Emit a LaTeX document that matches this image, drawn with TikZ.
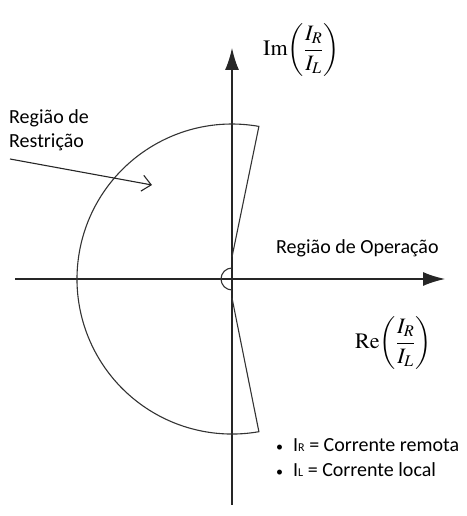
\documentclass[tikz,border=0pt]{standalone}
\usepackage{amsmath}
\usepackage{mathptmx}
\usepackage[no-math]{fontspec}
\setmainfont{Carlito}
\usetikzlibrary{arrows.meta}

\begin{document}
\begin{tikzpicture}[x=1pt,y=1pt,
  axis/.style={line width=1.4pt,black!85,-{Latex[length=22pt,width=14pt]}},
  boundary/.style={line width=1.1pt,black!80},
  axislabel/.style={anchor=west,inner sep=0pt,font=\fontsize{22}{26}\selectfont},
  region/.style={anchor=west,inner sep=0pt,align=left,font=\fontsize{20}{24}\selectfont},
  legend/.style={anchor=west,inner sep=0pt,font=\fontsize{20}{24}\selectfont}]
  \useasboundingbox (0,0) rectangle (466,516);

  % axes
  \coordinate (o) at (232,237);
  \coordinate (ybot) at (232,11);
  \coordinate (ytop) at (232,468);
  \coordinate (xleft) at (15,237);
  \coordinate (xright) at (445,237);
  \draw[axis] (ybot) -- (ytop);
  \draw[axis] (xleft) -- (xright);

  % restraint region
  \draw[boundary] (232,259) -- (258.9,389.6)
    arc[start angle=80,end angle=280,radius=155] -- (232,218);
  \draw[boundary] (232,248) arc[start angle=90,end angle=270,radius=11];

  % labels
  \node[axislabel] (im) at (263,466) {$\mathrm{Im}\!\left(\dfrac{I_R}{I_L}\right)$};
  \node[axislabel] (re) at (355,173) {$\mathrm{Re}\!\left(\dfrac{I_R}{I_L}\right)$};
  \node[region] (oper) at (276,268) {Região de Operação};
  \node[region] (restr) at (9,386) {Região de\\Restrição};

  \coordinate (rstart) at (10,357);
  \coordinate (rend) at (152,331);
  \draw[line width=1.1pt,black!85,-{Straight Barb[length=9pt,width=16pt]}] (rstart) -- (rend);

  % legend
  \node[legend] (lr) at (276,71) {{\fontsize{14}{14}\selectfont\textbullet}\hspace{10pt}I{\fontsize{12}{12}\selectfont R} = Corrente remota};
  \node[legend] (ll) at (276,46) {{\fontsize{14}{14}\selectfont\textbullet}\hspace{10pt}I{\fontsize{12}{12}\selectfont L} = Corrente local};
\end{tikzpicture}
\end{document}
